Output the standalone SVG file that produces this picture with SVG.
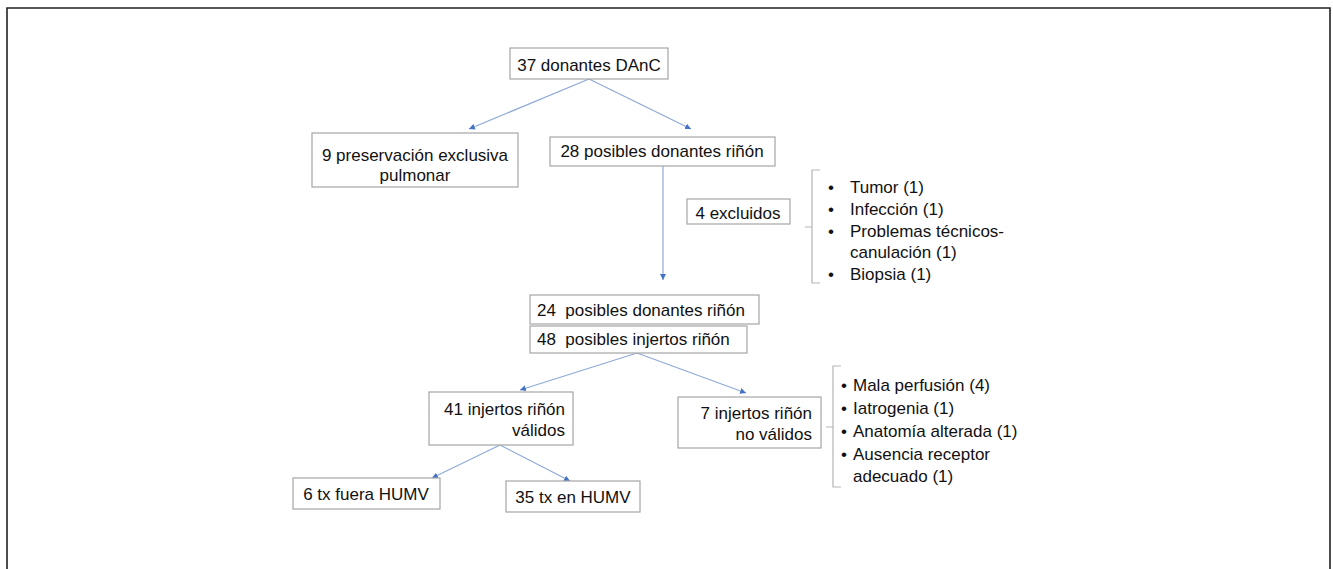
<svg xmlns="http://www.w3.org/2000/svg" width="1333" height="569" viewBox="0 0 1333 569">
<defs>
<marker id="ah" viewBox="0 0 6 6" refX="6" refY="3" markerWidth="6" markerHeight="6" markerUnits="userSpaceOnUse" orient="auto">
<path d="M0,0 L6,3 L0,6 z" fill="#4472c4"/>
</marker>
<style>
.box{fill:#fff;stroke:#a6a6a6;stroke-width:1.2}
.t{font-family:"Liberation Sans",Arial,sans-serif;font-size:17px;fill:#111}
.s{font-family:"Liberation Sans",Arial,sans-serif;font-size:17px;fill:#111}
.c{text-anchor:middle}
.r{text-anchor:end}
.conn{fill:none;stroke:#8eaad6;stroke-width:1.2;marker-end:url(#ah)}
.br{fill:none;stroke:#b5b5b5;stroke-width:1.2}
</style>
</defs>
<rect width="1333" height="569" fill="#fff"/>
<path d="M7,569 V8 H1330 V569" fill="none" stroke="#222" stroke-width="1.6"/>

<g id="connectors">
<path class="conn" d="M589,79 L469,129"/>
<path class="conn" d="M589,79 L691,129"/>
<path class="conn" d="M663,166 V280"/>
<path class="conn" d="M637,353 L520,390"/>
<path class="conn" d="M637,353 L746,393"/>
<path class="conn" d="M500,445 L432,478"/>
<path class="conn" d="M500,445 L570,481"/>
</g>

<g id="n37">
<rect class="box" x="510" y="48" width="158" height="31"/>
<text class="t c" x="589" y="71">37 donantes DAnC</text>
</g>
<g id="n9">
<rect class="box" x="312" y="133" width="206" height="54"/>
<text class="t c" x="415" y="161">9 preservación exclusiva</text>
<text class="t c" x="415" y="181">pulmonar</text>
</g>
<g id="n28">
<rect class="box" x="550" y="137" width="225" height="29"/>
<text class="t c" x="662" y="157">28 posibles donantes riñón</text>
</g>
<g id="n4">
<rect class="box" x="687" y="199" width="103" height="25"/>
<text class="t c" x="738" y="219">4 excluidos</text>
</g>
<g id="list1">
<path class="br" d="M820,170 H812 V283 H820 M812,227 H805"/>
<text class="s" x="828" y="193">•</text>
<text class="s" x="850" y="193">Tumor (1)</text>
<text class="s" x="828" y="215">•</text>
<text class="s" x="850" y="215">Infección (1)</text>
<text class="s" x="828" y="237">•</text>
<text class="s" x="850" y="237">Problemas técnicos-</text>
<text class="s" x="850" y="258">canulación (1)</text>
<text class="s" x="828" y="280">•</text>
<text class="s" x="850" y="280">Biopsia (1)</text>
</g>
<g id="n24">
<rect class="box" x="530" y="295" width="229" height="29"/>
<text class="t" x="537" y="316">24&#160; posibles donantes riñón</text>
</g>
<g id="n48">
<rect class="box" x="530" y="326" width="217" height="27"/>
<text class="t" x="537" y="345">48&#160; posibles injertos riñón</text>
</g>
<g id="n41">
<rect class="box" x="429" y="392" width="144" height="53"/>
<text class="t r" x="565" y="415">41 injertos riñón</text>
<text class="t r" x="565" y="436">válidos</text>
</g>
<g id="n7">
<rect class="box" x="678" y="397" width="143" height="51"/>
<text class="t r" x="812" y="419">7 injertos riñón</text>
<text class="t r" x="812" y="440">no válidos</text>
</g>
<g id="list2">
<path class="br" d="M841,366 H833 V487 H841 M833,427 H826"/>
<text class="s" x="841" y="391">•</text>
<text class="s" x="853" y="391">Mala perfusión (4)</text>
<text class="s" x="841" y="414">•</text>
<text class="s" x="853" y="414">Iatrogenia (1)</text>
<text class="s" x="841" y="437">•</text>
<text class="s" x="853" y="437">Anatomía alterada (1)</text>
<text class="s" x="841" y="460">•</text>
<text class="s" x="853" y="460">Ausencia receptor</text>
<text class="s" x="853" y="482">adecuado (1)</text>
</g>
<g id="n6">
<rect class="box" x="293" y="478" width="147" height="31"/>
<text class="t c" x="366" y="500">6 tx fuera HUMV</text>
</g>
<g id="n35">
<rect class="box" x="506" y="481" width="134" height="31"/>
<text class="t c" x="573" y="503">35 tx en HUMV</text>
</g>
</svg>
